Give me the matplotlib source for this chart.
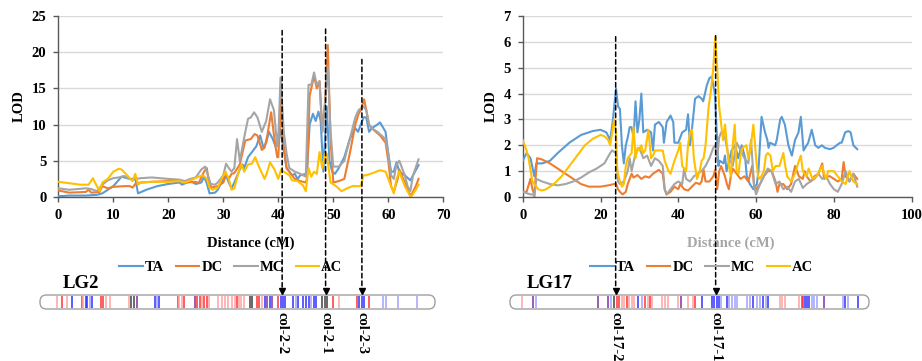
import matplotlib
matplotlib.use('Agg')
import matplotlib.pyplot as plt
from matplotlib.patches import FancyBboxPatch, ConnectionPatch
from matplotlib.lines import Line2D

# ---------------- DATA ----------------
series_names = ['TA', 'DC', 'MC', 'AC']
series_colors = ['#5B9BD5', '#ED7D31', '#A5A5A5', '#FFC000']

LG2_TA = [(0,0.1),(2,0.2),(5,0.2),(7,0.3),(8,0.5),(10,1.5),(11.5,2.8),(13,2.5),(14,2.5),(14.5,0.5),(16,1.0),(18,1.5),(20,1.8),(22,2.0),(22.5,1.7),(24,2.2),(25,1.8),(26,2.0),(26.5,2.8),(27,1.9),(27.5,0.5),(28.5,0.6),(29,1.0),(30,2.5),(30.5,3.0),(31,2.0),(31.5,1.2),(32,2.0),(33,3.8),(33.5,4.5),(33.8,4.0),(34.5,5.5),(35.5,6.5),(36,7.0),(36.7,8.5),(37.3,6.8),(37.8,7.5),(38.3,9.0),(39,8.0),(39.5,7.0),(40.3,9.5),(41,6.5),(41.5,4.0),(42.5,3.0),(43,3.2),(43.5,2.5),(44,3.0),(45,3.2),(45.2,3.5),(45.7,10.0),(46.3,11.5),(46.8,10.5),(47.3,11.8),(47.7,10.5),(48.2,3.5),(48.8,12.5),(49.3,5.0),(49.8,3.5),(50.3,3.2),(51,4.0),(52,5.5),(53,8.0),(54,9.5),(54.5,9.0),(55.5,11.0),(56,11.0),(56.5,9.0),(57,9.5),(58,10.0),(58.5,10.3),(59.5,9.0),(60,6.0),(60.5,3.5),(61,3.5),(61.5,4.8),(62,3.5),(63,3.0),(64,2.3),(64.5,3.0),(65.5,4.4)]
LG2_DC = [(0,0.9),(2,0.6),(5,0.7),(5.5,1.0),(6,0.6),(7.5,0.7),(8,1.5),(9,1.2),(10,1.4),(12,1.5),(13,1.5),(13.5,1.3),(14,1.8),(15,2.0),(17,2.1),(20,2.2),(22,2.2),(23,2.0),(25,2.1),(25.5,1.9),(26.5,3.5),(27,4.0),(27.3,2.5),(27.8,1.3),(29,1.5),(30,2.0),(30.5,3.0),(31,2.5),(31.5,3.2),(32,3.3),(33,4.5),(34,7.8),(35,8.0),(35.7,8.7),(36.2,8.5),(37,6.5),(37.5,6.8),(38,8.5),(38.7,11.7),(39.3,8.0),(39.8,5.5),(40,5.5),(40.5,13.5),(41,7.0),(41.5,4.0),(42.5,3.0),(43,2.5),(44,2.2),(45,2.0),(45.2,2.5),(45.7,14.0),(46.5,16.7),(47,15.0),(47.5,16.0),(48,9.0),(48.5,13.0),(49,21.0),(49.5,8.0),(50,2.0),(51,2.2),(52,2.5),(53,6.0),(54,10.0),(54.6,11.5),(55,12.0),(55.6,13.5),(56,12.0),(56.5,10.0),(57,9.5),(58.5,8.5),(59.5,7.5),(60,5.0),(60.5,1.5),(61,0.7),(61.7,2.5),(62,3.8),(63,2.0),(63.8,0.5),(64.2,0.3),(65,1.5),(65.5,2.5)]
LG2_MC = [(0,1.2),(2,1.0),(5,1.2),(6,1.1),(7,0.8),(8,1.7),(9,2.3),(10,2.6),(11,2.7),(12,2.9),(13,2.5),(13.5,2.3),(14,2.5),(15,2.6),(17,2.7),(20,2.5),(22,2.4),(23,2.2),(24,2.5),(25,2.7),(26,3.8),(26.7,4.2),(27,3.5),(27.7,1.8),(28.5,1.7),(29,2.0),(30,3.0),(30.5,4.6),(31,4.0),(31.5,3.5),(32,4.0),(32.5,8.0),(33,5.0),(34,9.0),(34.5,10.8),(35,11.0),(35.6,11.7),(36.2,11.0),(37,9.0),(37.8,10.5),(38.5,13.5),(39.2,12.0),(39.8,7.0),(40,8.0),(40.4,16.5),(41,9.0),(41.5,6.0),(42,4.0),(43,3.5),(44,3.2),(45,2.8),(45.5,15.5),(46,15.5),(46.5,17.2),(47,15.5),(47.5,16.0),(48,9.0),(48.5,13.0),(49,18.0),(49.5,9.0),(50,4.2),(51,4.2),(52,5.0),(53,8.0),(54,11.0),(54.6,12.0),(55.5,12.5),(56,12.0),(56.5,10.0),(57,9.5),(58,9.0),(59.5,8.0),(60,6.0),(60.5,3.0),(61,2.5),(61.5,4.5),(62,5.0),(63,3.0),(63.5,1.5),(64,0.8),(64.5,3.0),(65.5,5.2)]
LG2_AC = [(0,2.1),(2,1.9),(4,1.7),(5.5,1.7),(6.3,2.6),(7,1.5),(7.5,0.8),(8,2.0),(9,2.5),(10,3.5),(11,3.9),(11.5,3.8),(12.5,3.0),(13.5,2.2),(14,3.2),(14.5,1.7),(15,2.0),(17,2.1),(20,2.1),(22,2.2),(23,2.0),(24,2.3),(25.5,2.8),(26.3,3.0),(27,2.5),(27.5,1.3),(28,1.0),(29,1.3),(30,3.0),(30.4,3.5),(31,2.5),(31.5,1.0),(32,1.2),(33,4.0),(33.3,4.5),(33.8,3.5),(34.5,4.5),(35.2,4.6),(35.8,5.5),(36.3,4.5),(37.5,2.5),(38,3.5),(38.5,4.8),(39.3,3.8),(40,2.5),(40.5,3.8),(41,3.5),(42,3.0),(42.5,2.3),(43.5,2.2),(44.5,1.6),(45,0.8),(45.5,4.0),(46,2.8),(46.5,3.5),(47,3.2),(47.5,6.2),(48,4.0),(48.5,6.0),(48.8,6.0),(49.5,2.0),(50.5,1.5),(51.5,0.8),(52.5,1.2),(53.5,1.5),(55,1.5),(55.5,3.0),(56,3.0),(57.5,3.4),(58.5,3.7),(59.5,3.5),(60,2.5),(61,0.5),(61.5,2.5),(62,3.5),(63,1.5),(64,0.1),(64.3,0.2),(65,1.0),(65.5,1.7)]

LG17_TA = [(0,1.4),(1,1.7),(2,1.5),(3,0.8),(3.5,1.3),(5,1.3),(7,1.4),(9,1.7),(12,2.1),(15,2.4),(18,2.55),(20,2.6),(21.5,2.5),(22.5,2.2),(23.2,3.0),(24,4.2),(24.5,3.5),(25,3.4),(25.5,2.0),(26,1.3),(26.5,2.0),(27,2.3),(27.5,2.7),(28,2.7),(28.5,2.3),(29,3.7),(29.5,2.5),(30,3.0),(30.5,4.0),(31,2.5),(32,2.6),(33,2.5),(33.5,1.8),(34,2.8),(35,2.9),(36,2.7),(36.3,2.1),(37,2.9),(38,3.15),(38.7,2.9),(39,2.1),(40,2.1),(41,2.5),(42,2.6),(42.5,3.2),(43,2.0),(43.5,2.6),(44.3,3.8),(45.2,3.9),(46,3.8),(46.4,3.7),(47.3,4.3),(48,4.6),(48.6,4.65),(49.4,4.0),(50.3,1.2),(50.7,1.4),(51.6,1.3),(52,1.6),(52.4,1.0),(53.7,1.8),(54.6,2.0),(55.4,1.5),(56.3,2.0),(57.2,1.5),(57.6,0.8),(58.4,0.5),(59.3,0.3),(60.2,0.5),(60.6,1.0),(61.4,3.1),(62.3,2.5),(62.9,2.2),(63.2,1.9),(63.6,2.1),(64.9,2.0),(65.3,2.2),(66.2,3.0),(66.6,3.1),(67.4,2.8),(68.3,2.0),(69.2,1.6),(70,2.2),(70.9,2.5),(71.5,3.1),(72.2,1.8),(73,2.0),(73.4,2.1),(74.3,2.6),(75.2,2.0),(76,1.9),(76.9,2.0),(77.7,1.9),(79,1.85),(79.9,1.9),(80.7,2.0),(81.6,2.1),(82,2.1),(82.9,2.5),(83.7,2.55),(84.3,2.5),(85,2.0),(86,1.85)]
LG17_DC = [(0,0.2),(1,0.2),(2,0.7),(2.5,0.3),(3,0.1),(3.7,1.5),(5,1.45),(7,1.3),(9,1.1),(11,0.9),(13,0.7),(15,0.5),(17,0.4),(20,0.4),(22,0.45),(23.5,0.5),(24,0.5),(24.5,0.3),(25,0.2),(25.7,0.1),(26.5,0.2),(27,0.5),(28,0.9),(28.5,0.75),(29.5,0.85),(30.5,0.7),(31.5,0.8),(32.5,0.75),(33.5,0.9),(35,1.05),(36,0.9),(36.5,0.3),(37,0.1),(38,0.2),(39,0.4),(40,0.3),(40.5,0.5),(41.5,0.3),(42.5,0.25),(43.5,0.4),(44.5,0.55),(45.5,0.5),(46,0.6),(46.5,1.05),(47,0.6),(48,0.6),(48.5,0.7),(49,0.8),(49.5,1.05),(50,0.3),(50.5,1.0),(51,1.2),(52,0.8),(52.5,0.5),(53,0.3),(53.5,0.8),(54,1.1),(55,0.9),(56,0.7),(57,0.8),(58,0.6),(59,1.2),(59.5,0.4),(60,0.3),(61,0.5),(62,0.8),(63,1.0),(64,1.0),(65,0.6),(65.5,0.2),(66,0.5),(67,0.5),(68,0.3),(69,0.5),(70,1.2),(71,0.8),(72,0.7),(72.5,1.0),(73,0.8),(74,0.6),(75,0.8),(76,0.9),(77,1.3),(77.5,0.7),(78,0.8),(79,0.8),(80,0.7),(81,0.6),(82,0.7),(82.5,1.35),(83,0.8),(84,0.6),(85,0.9),(86,0.7)]
LG17_MC = [(0,0.2),(1,0.15),(2,0.1),(2.8,0.1),(3,0.0),(3.5,0.7),(5,0.6),(7,0.5),(9,0.45),(11,0.5),(13,0.6),(15,0.75),(17,0.95),(19,1.1),(21,1.3),(22.5,1.7),(23,1.8),(24,1.7),(24.5,0.6),(25,0.5),(26,0.6),(27,1.0),(27.5,1.5),(28,1.0),(29,1.7),(30,1.9),(31,1.5),(32,1.6),(33,1.2),(34,1.5),(35,1.4),(36,1.2),(36.5,0.3),(37,0.1),(38,0.3),(39,0.5),(40,0.6),(41,0.5),(41.5,1.1),(42,0.7),(43,0.6),(44,0.8),(45,0.9),(46,1.0),(47,1.2),(48,1.5),(49,1.9),(49.5,2.0),(50,1.5),(50.5,2.3),(51,2.5),(52,2.3),(53,1.5),(54,1.2),(55,2.1),(56,1.8),(57,1.5),(58,1.3),(58.7,2.2),(59.5,0.4),(60,0.1),(61,0.5),(62,0.8),(63,1.1),(64,1.0),(65,0.5),(66,0.6),(67,0.3),(68,0.4),(69,0.2),(70,0.6),(71,0.7),(72,0.35),(73,0.5),(74,0.6),(75,0.7),(76,0.9),(77,0.7),(78,0.8),(79,0.5),(80,0.3),(81,0.2),(82,0.5),(83,1.0),(84,0.6),(85,0.9),(86,0.4)]
LG17_AC = [(0,2.2),(1,1.8),(1.5,1.5),(2.5,0.6),(4,0.3),(5,0.25),(6,0.3),(8,0.5),(10,0.8),(12,1.2),(14,1.6),(16,2.0),(18,2.25),(20,2.4),(21,2.35),(22,2.2),(22.5,2.0),(23,2.5),(23.5,3.0),(24,2.5),(24.3,1.0),(25,0.6),(25.5,0.4),(26,0.5),(26.5,1.2),(27,1.5),(28,1.7),(28.5,2.7),(29,1.5),(29.5,1.9),(30,1.8),(30.5,2.0),(31,1.7),(31.5,1.8),(32.3,2.6),(33,1.5),(33.5,1.6),(34,1.8),(36,1.8),(36.5,1.4),(37.5,1.0),(38,0.9),(39,1.4),(40,1.8),(40.5,2.1),(41,1.2),(42,1.0),(42.5,2.0),(43,2.5),(43.5,2.6),(44,1.5),(44.8,0.7),(45.5,1.0),(46,1.4),(46.5,1.5),(47,2.0),(47.8,3.5),(48.3,4.0),(49,5.0),(49.5,6.2),(50,5.0),(50.5,3.5),(51.5,2.2),(52,2.8),(52.5,2.0),(53,1.2),(53.5,0.8),(54,2.0),(54.5,2.8),(55,1.0),(55.5,0.9),(56,1.6),(56.5,1.9),(57.5,2.0),(58,1.5),(58.5,1.8),(59.3,2.8),(60,1.5),(60.5,0.8),(61,0.7),(62,1.0),(62.5,1.6),(63,1.7),(63.7,1.6),(64.3,1.0),(65,1.2),(66,1.2),(67,1.7),(67.5,1.2),(68,0.8),(69,0.6),(70,0.9),(71,1.4),(71.5,1.6),(72,1.0),(73,0.8),(73.5,1.1),(74.5,0.7),(75.5,0.8),(77,1.2),(77.5,0.9),(78,0.7),(78.5,1.0),(80,1.0),(81,0.8),(82,0.6),(83,0.5),(84,1.0),(85,0.6),(86,0.5)]

LG2_xticks = [0, 10, 20, 30, 40, 50, 60, 70]
LG2_yticks = [0, 5, 10, 15, 20, 25]
LG17_xticks = [0, 20, 40, 60, 80, 100]
LG17_yticks = [0, 1, 2, 3, 4, 5, 6, 7]

# QTL peaks: (position cM, top of dashed line LOD, label)
LG2_qtl = [(40.7, 23.0, 'col-2-2'), (48.6, 23.2, 'col-2-1'), (55.2, 19.0, 'col-2-3')]
LG17_qtl = [(23.9, 6.2, 'col-17-2'), (49.6, 6.24, 'col-17-1')]

# chromosome markers: position (cM) and type
LG2_markers = [(-0.2,'lr'),(0.6,'r'),(1.5,'lr'),(2.4,'b'),(4.3,'r'),(4.5,'lr'),(5.0,'b'),(5.3,'b'),(5.8,'lb'),(6.2,'b'),
               (7.8,'r'),(8.2,'r'),(8.7,'lr'),(9.4,'lr'),(12.9,'lr'),(13.3,'k'),(13.8,'k'),(14.3,'p'),
               (17.5,'b'),(17.9,'lb'),(18.3,'b'),(21.7,'r'),(22.0,'lr'),(22.4,'lr'),(22.9,'r'),
               (24.9,'p'),(25.3,'r'),(25.8,'r'),(26.2,'lr'),(26.5,'r'),(27.0,'r'),(27.4,'lr'),
               (29.1,'lr'),(29.7,'lr'),(30.3,'lr'),(30.9,'lr'),(31.5,'lr'),(32.1,'lr'),(32.4,'r'),(32.9,'lr'),(33.3,'lr'),(33.8,'lr'),
               (34.9,'k'),(35.3,'k'),(36.1,'r'),(36.5,'r'),(37.0,'lr'),(37.6,'b'),(38.0,'p'),(38.5,'b'),(38.9,'p'),(39.9,'r'),
               (40.5,'b'),(40.9,'b'),(41.3,'b'),(42.7,'b'),(43.2,'lb'),(43.6,'b'),(44.5,'b'),(45.0,'b'),(45.5,'b'),(45.9,'lb'),(46.4,'b'),(46.8,'b'),
               (48.0,'k'),(48.5,'k'),(48.9,'k'),(50.0,'r'),(51.0,'lr'),(54.3,'r'),(54.7,'b'),(55.2,'b'),(55.6,'b'),(56.4,'r'),
               (59.1,'lb'),(59.5,'lb'),(61.8,'lb'),(65.3,'lb')]
LG17_markers = [(-0.1,'lr'),(2.7,'p'),(3.3,'lb'),(19.4,'p'),(22.0,'p'),(22.7,'lb'),(23.5,'k'),(24.2,'r'),(24.8,'r'),(25.4,'lr'),
                (26.0,'lr'),(26.7,'r'),(27.3,'lr'),(28.0,'lr'),(28.7,'lr'),(29.7,'b'),(30.6,'lb'),(31.4,'r'),(32.1,'lr'),(32.7,'r'),(33.3,'lr'),
                (35.9,'lr'),(36.6,'lr'),(37.4,'lr'),(39.8,'lr'),(40.6,'p'),(42.4,'lr'),(43.9,'lr'),(44.3,'r'),(46.0,'b'),
                (48.7,'b'),(49.3,'b'),(49.9,'b'),(50.5,'b'),(51.0,'lb'),(52.4,'b'),(53.0,'lb'),(53.7,'lb'),(54.6,'lb'),(55.2,'lb'),
                (57.6,'lb'),(58.4,'lb'),(59.3,'b'),(60.2,'lb'),(61.0,'lb'),(61.9,'b'),(62.5,'lb'),(63.1,'b'),
                (66.1,'lr'),(66.7,'lr'),(67.4,'lr'),(71.0,'lr'),(71.7,'r'),(72.1,'r'),(72.5,'b'),(73.2,'b'),(73.7,'b'),(74.3,'lb'),(74.9,'lb'),(75.6,'lb'),
                (77.5,'p'),(82.4,'lb'),(82.8,'b'),(83.5,'lb'),(86.1,'b')]
marker_colors = {'r': '#FF3030', 'lr': '#FFA0A0', 'b': '#3030FF', 'lb': '#A0A0FF', 'p': '#8030A0', 'k': '#404040'}

# ---------------- FIGURE ----------------
plt.rcParams['font.family'] = ['Liberation Serif', 'DejaVu Serif']
plt.rcParams['font.weight'] = 'bold'

W, H = 922, 361
fig = plt.figure(figsize=(W / 100, H / 100), dpi=100)


def box(x0, y0, x1, y1):
    return [x0 / W, 1 - y1 / H, (x1 - x0) / W, (y1 - y0) / H]


panels = [
    dict(ax_px=(58.3, 16, 443.3, 197), xlim=(0, 70), ylim=(0, 25), xticks=LG2_xticks, yticks=LG2_yticks,
         data=[LG2_TA, LG2_DC, LG2_MC, LG2_AC], chrom_px=(40, 295, 435, 309), markers=LG2_markers,
         qtl=LG2_qtl, name='LG2', name_x=63, xlabel_x=250.8, xlabel_color='black', leg_x=231),
    dict(ax_px=(522.7, 16, 911.7, 197), xlim=(0, 100), ylim=(0, 7), xticks=LG17_xticks, yticks=LG17_yticks,
         data=[LG17_TA, LG17_DC, LG17_MC, LG17_AC], chrom_px=(510, 295, 869, 309), markers=LG17_markers,
         qtl=LG17_qtl, name='LG17', name_x=527, xlabel_x=730.7, xlabel_color='#A6A6A6', leg_x=702),
]

for p in panels:
    ax = fig.add_axes(box(*p['ax_px']))
    for d, c, n in zip(p['data'], series_colors, series_names):
        xs = [a for a, b in d]
        ys = [b for a, b in d]
        ax.plot(xs, ys, color=c, lw=1.5, label=n, solid_joinstyle='round', zorder=3)
    ax.set_xlim(*p['xlim'])
    ax.set_ylim(*p['ylim'])
    ax.set_xticks(p['xticks'])
    ax.set_yticks(p['yticks'])
    for s in ['top', 'right']:
        ax.spines[s].set_visible(False)
    for s in ['left', 'bottom']:
        ax.spines[s].set_color('#595959')
        ax.spines[s].set_linewidth(1.0)
    ax.spines['bottom'].set_zorder(4)
    ax.yaxis.grid(True, color='#D9D9D9', lw=1.0)
    ax.set_axisbelow(True)
    ax.tick_params(direction='out', length=3.5, width=1, color='#595959', labelsize=10.5, pad=5)
    for lab in ax.get_xticklabels() + ax.get_yticklabels():
        lab.set_fontweight('bold')
    ax.set_ylabel('LOD', fontsize=10.5, fontweight='bold', labelpad=4)

    px0, py0, px1, py1 = p['ax_px']
    fig.text(p['xlabel_x'] / W, 1 - 243.3 / H, 'Distance (cM)', ha='center', va='center',
             fontsize=10.5, fontweight='bold', color=p['xlabel_color'])

    handles = [Line2D([0], [0], color=c, lw=1.5) for c in series_colors]
    fig.legend(handles, series_names, loc='center', bbox_to_anchor=(p['leg_x'] / W, 1 - 267.3 / H),
               ncol=4, frameon=False, handlelength=1.6, handletextpad=0.15, columnspacing=0.8,
               prop={'size': 10.5, 'weight': 'bold'}, borderaxespad=0, borderpad=0)

    # chromosome
    cx0, cy0, cx1, cy1 = p['chrom_px']
    scale = (px1 - px0) / (p['xlim'][1] - p['xlim'][0])
    cax = fig.add_axes(box(*p['chrom_px']))
    cxlim = ((cx0 - px0) / scale, (cx1 - px0) / scale)
    cax.set_xlim(*cxlim)
    cax.set_ylim(0, 1)
    cax.axis('off')
    for pos, t in p['markers']:
        cax.vlines(pos, 0.06, 0.94, colors=marker_colors[t], lw=1.1, zorder=2)
    rad_px = 6.5
    rs = rad_px / scale
    hpx = cy1 - cy0
    outline = FancyBboxPatch((cxlim[0], 0), cxlim[1] - cxlim[0], 1,
                             boxstyle='round,pad=0,rounding_size=%f' % rs,
                             mutation_aspect=(rad_px / hpx) / rs,
                             fc='none', ec='#A0A0A0', lw=1.0, clip_on=False, zorder=3)
    cax.add_patch(outline)

    # QTL dashed lines with arrows
    for pos, top, lab in p['qtl']:
        con = ConnectionPatch(xyA=(pos, top), coordsA=ax.transData,
                              xyB=(pos, 1.55), coordsB=cax.transData,
                              linestyle=(0, (3, 2)), color='black', lw=1.1, zorder=5)
        fig.add_artist(con)
        cax.plot([pos], [1.3], marker='v', color='black', ms=5, clip_on=False, zorder=6)
        cax.text(pos, -0.25, lab, rotation=270, ha='center', va='top', fontsize=10.5,
                 fontweight='bold', clip_on=False)

    fig.text(p['name_x'] / W, 1 - 283 / H, p['name'], ha='left', va='center',
             fontsize=13.5, fontweight='bold')

fig.savefig('out.png', dpi=100)
